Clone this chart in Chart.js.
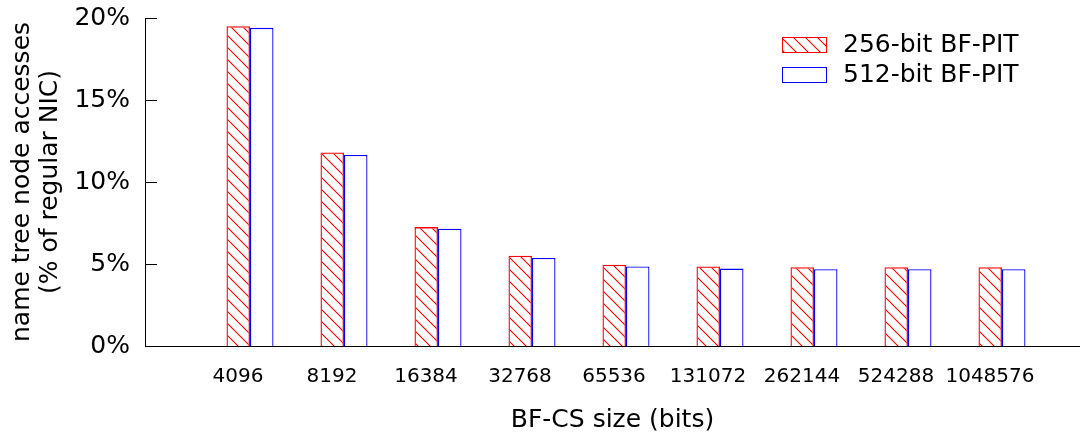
<!DOCTYPE html>
<html>
<head>
<meta charset="utf-8">
<script src="https://cdn.jsdelivr.net/npm/chart.js@4.4.1/dist/chart.umd.min.js"></script>
<style>
	html, body { margin: 0; padding: 0; background: #fff; }
	#wrap { width: 1080px; height: 437px; }
</style>
</head>
<body>
<div id="wrap"><canvas id="chart"></canvas></div>
<script>
const categories = ['4096', '8192', '16384', '32768', '65536', '131072', '262144', '524288', '1048576'];
const pit256 = [19.5, 11.8, 7.25, 5.5, 4.95, 4.85, 4.8, 4.8, 4.8];
const pit512 = [19.4, 11.65, 7.15, 5.37, 4.85, 4.72, 4.68, 4.68, 4.68];
const seriesNames = ['256-bit BF-PIT', '512-bit BF-PIT'];
const yTicks = [0, 5, 10, 15, 20];

Chart.defaults.font.family = '"DejaVu Sans", sans-serif';
Chart.defaults.color = '#000';

// red "\\\" hatch
function hatch(color){
	const s = 12;
	const c = document.createElement('canvas');
	c.width = s; c.height = s;
	const g = c.getContext('2d');
	g.strokeStyle = color; g.lineWidth = 1.1;
	g.beginPath();
	g.moveTo(0, 0); g.lineTo(s, s);
	g.moveTo(-2, s - 2); g.lineTo(2, s + 2);
	g.moveTo(s - 2, -2); g.lineTo(s + 2, 2);
	g.stroke();
	return g.createPattern(c, 'repeat');
}

const toPoints = arr => arr.map((v, i) => ({ x: i, y: v }));

// inward y ticks + legend inside plot
const extras = {
	id: 'extras',
	afterDraw(chart){
		const { ctx, chartArea, scales: { y } } = chart;
		ctx.save();
		ctx.strokeStyle = '#000'; ctx.lineWidth = 1;
		yTicks.forEach(v => {
			const py = Math.round(y.getPixelForValue(v)) + 0.5;
			ctx.beginPath(); ctx.moveTo(chartArea.left, py); ctx.lineTo(chartArea.left + 12, py); ctx.stroke();
		});
		ctx.font = '25px "DejaVu Sans"';
		ctx.textBaseline = 'middle';
		chart.data.datasets.forEach((ds, i) => {
			const bx = 782.5, by = 37.5 + i * 30;
			ctx.fillStyle = ds.backgroundColor; ctx.fillRect(bx, by, 44, 15);
			ctx.strokeStyle = ds.borderColor; ctx.strokeRect(bx, by, 44, 15);
			ctx.fillStyle = '#000'; ctx.fillText(ds.label, 843, by + 8);
		});
		ctx.restore();
	}
};

const ctx = document.getElementById('chart').getContext('2d');
new Chart(ctx, {
	type: 'bar',
	data: {
		datasets: [
			{ label: seriesNames[0], data: toPoints(pit256), backgroundColor: hatch('#ff0000'), borderColor: '#ff0000', borderWidth: 1.3 },
			{ label: seriesNames[1], data: toPoints(pit512), backgroundColor: '#ffffff', borderColor: '#0000ff', borderWidth: 1.3 }
		]
	},
	options: {
		responsive: true,
		maintainAspectRatio: false,
		animation: false,
		layout: { padding: { top: 18, right: 0, bottom: 0, left: 0 } },
		datasets: { bar: { categoryPercentage: 0.5, barPercentage: 1 } },
		plugins: { legend: { display: false }, tooltip: { enabled: false } },
		scales: {
			x: {
				type: 'linear',
				offset: false,
				min: -1.117, max: 8.83,
				grid: { display: false, drawTicks: false },
				border: { display: true, color: '#000', width: 1 },
				afterBuildTicks: s => { s.ticks = categories.map((_, i) => ({ value: i })); },
				afterFit: s => { s.height = 91; s.paddingLeft = 0; s.paddingRight = 0; },
				ticks: {
					autoSkip: false, maxRotation: 0, padding: 19, labelOffset: -12,
					font: { size: 20 },
					callback: v => categories[v]
				},
				title: { display: true, text: 'BF-CS size (bits)', font: { size: 25 }, padding: { top: 0, bottom: 2 } }
			},
			y: {
				min: 0, max: 20,
				grid: { display: false, drawTicks: false },
				border: { display: true, color: '#000', width: 1 },
				afterBuildTicks: s => { s.ticks = yTicks.map(v => ({ value: v })); },
				afterFit: s => { s.width = 145; s.paddingTop = 0; s.paddingBottom = 0; },
				ticks: { padding: 15, font: { size: 25 }, callback: v => v + '%' },
				title: {
					display: true,
					text: ['name tree node accesses', '(% of regular NIC)'],
					font: { size: 25, lineHeight: 1.12 },
					padding: { top: 8, bottom: 0 }
				}
			}
		}
	},
	plugins: [extras]
});
</script>
</body>
</html>
